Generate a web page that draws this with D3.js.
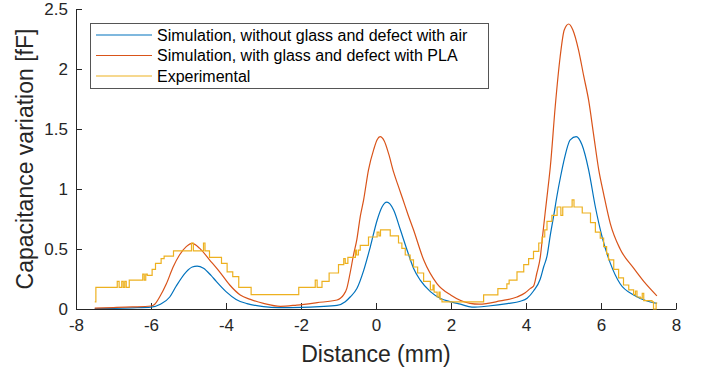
<!DOCTYPE html>
<html><head><meta charset="utf-8">
<script src="https://cdn.jsdelivr.net/npm/d3@7"></script>
<style>body{margin:0;background:#fff;} text{font-family:"Liberation Sans",Arial,Helvetica,sans-serif;}</style>
</head><body>
<svg id="chart" width="707" height="374"></svg>
<script>
// ---- data ----
const seriesNames = ["Simulation, without glass and defect with air","Simulation, with glass and defect with PLA","Experimental"];
const xTicks = [-8,-6,-4,-2,0,2,4,6,8];
const yTicks = [0,0.5,1,1.5,2,2.5];
const yTickLabels = ["0","0.5","1","1.5","2","2.5"];

const airX = [-7.5,-7,-6.5,-6,-5.75,-5.5,-5.33,-5.06,-4.9,-4.77,-4.6,-4.4,-4.26,-4.0,-3.73,-3.44,-3.0,-2.6,-2.0,-1.5,-1.04,-0.82,-0.69,-0.51,-0.33,-0.15,0.03,0.16,0.29,0.47,0.65,0.83,1.0,1.18,1.45,1.71,2.0,2.25,2.56,3.0,3.5,3.85,4.03,4.2,4.38,4.47,4.56,4.65,4.74,4.83,4.92,5.0,5.18,5.34,5.49,5.67,5.85,6.03,6.25,6.51,6.87,7.23,7.49];
const airY = [0.004,0.006,0.01,0.016,0.04,0.10,0.19,0.31,0.35,0.358,0.34,0.28,0.23,0.145,0.08,0.045,0.02,0.012,0.014,0.02,0.03,0.06,0.1,0.17,0.32,0.52,0.74,0.85,0.89,0.825,0.66,0.49,0.34,0.24,0.145,0.09,0.06,0.04,0.015,0.025,0.045,0.065,0.09,0.15,0.25,0.35,0.44,0.62,0.78,0.95,1.1,1.22,1.41,1.436,1.37,1.16,0.85,0.6,0.38,0.21,0.117,0.067,0.047];

const plaX = [-7.5,-7,-6.5,-6,-5.9,-5.77,-5.59,-5.41,-5.24,-5.06,-4.9,-4.7,-4.44,-4.17,-3.9,-3.62,-3.35,-3.0,-2.55,-2.11,-1.57,-1.04,-0.95,-0.86,-0.78,-0.69,-0.6,-0.51,-0.42,-0.33,-0.2,-0.06,0.03,0.11,0.22,0.34,0.47,0.6,0.72,0.85,1.0,1.27,1.63,2.0,2.51,2.75,3.31,3.76,3.98,4.11,4.2,4.29,4.38,4.45,4.51,4.58,4.65,4.78,4.91,5.02,5.14,5.25,5.4,5.54,5.67,5.8,5.94,6.07,6.25,6.51,6.87,7.14,7.49];
const plaY = [0.008,0.012,0.017,0.025,0.04,0.10,0.21,0.35,0.45,0.52,0.547,0.505,0.41,0.31,0.2,0.117,0.08,0.047,0.022,0.033,0.053,0.075,0.09,0.12,0.17,0.30,0.45,0.58,0.77,0.91,1.16,1.33,1.41,1.436,1.40,1.29,1.14,1.02,0.91,0.79,0.66,0.41,0.21,0.115,0.047,0.04,0.067,0.10,0.135,0.17,0.19,0.3,0.43,0.63,0.8,0.99,1.19,1.69,2.10,2.325,2.375,2.325,2.16,1.94,1.74,1.46,1.16,0.96,0.71,0.50,0.34,0.23,0.11];

const expX = [-7.5,-7.47,-6.9,-6.85,-6.78,-6.74,-6.7,-6.66,-6.58,-6.22,-6.18,-6.14,-6.1,-5.97,-5.88,-5.73,-5.65,-5.4,-4.92,-4.87,-4.6,-4.56,-4.44,-4.12,-3.97,-3.82,-3.66,-3.33,-2.06,-1.62,-1.57,-1.44,-1.25,-1.0,-0.86,-0.82,-0.75,-0.55,-0.52,-0.47,-0.42,-0.2,0.03,0.08,0.12,0.38,0.6,0.69,0.78,0.91,1.0,1.11,1.27,1.45,1.52,1.55,1.63,1.68,1.71,1.76,2.87,3.25,3.49,3.55,3.76,3.94,4.07,4.2,4.34,4.43,4.5,4.56,4.69,4.83,4.93,4.98,5.23,5.28,5.5,5.72,5.85,5.98,6.07,6.15,6.2,6.34,6.47,6.6,6.74,6.87,6.92,6.96,7.05,7.1,7.14,7.36,7.4,7.47,7.5];
const expY = [0.06,0.18,0.23,0.18,0.23,0.18,0.23,0.18,0.24,0.29,0.24,0.29,0.28,0.33,0.38,0.42,0.44,0.485,0.55,0.485,0.55,0.485,0.43,0.38,0.31,0.27,0.18,0.12,0.18,0.24,0.18,0.23,0.30,0.37,0.42,0.38,0.43,0.49,0.45,0.49,0.53,0.60,0.64,0.61,0.66,0.61,0.55,0.505,0.45,0.41,0.35,0.30,0.23,0.16,0.2,0.14,0.10,0.14,0.08,0.06,0.117,0.17,0.21,0.24,0.31,0.37,0.42,0.48,0.55,0.6,0.66,0.73,0.78,0.85,0.78,0.85,0.91,0.85,0.80,0.72,0.64,0.59,0.52,0.46,0.41,0.33,0.26,0.2,0.16,0.12,0.15,0.1,0.09,0.13,0.07,0.06,0.0,0.05,0.05];

const colors = ["#0072BD","#D95319","#EDB120"];

// ---- layout ----
const svg = d3.select("#chart");
const L = 76, R = 676, T = 9, B = 309;
const x = d3.scaleLinear().domain([-8,8]).range([L,R]);
const y = d3.scaleLinear().domain([0,2.5]).range([B,T]);
const axisColor = "#262626";

// axes
const gx = svg.append("g").attr("transform",`translate(0,${B})`)
  .call(d3.axisBottom(x).tickValues(xTicks).tickSizeInner(-6).tickSizeOuter(0).tickPadding(10).tickFormat(d3.format("d")));
const gy = svg.append("g").attr("transform",`translate(${L},0)`)
  .call(d3.axisLeft(y).tickValues(yTicks).tickSizeInner(-6).tickSizeOuter(0).tickPadding(8).tickFormat((d,i)=>yTickLabels[i]));
[gx,gy].forEach(g=>{
  g.select(".domain").attr("stroke",axisColor).attr("stroke-width",1);
  g.selectAll(".tick line").attr("stroke",axisColor);
  g.selectAll(".tick text").attr("fill",axisColor).style("font-size","17px").style("font-family","'Liberation Sans',Arial,sans-serif");
});
gx.selectAll(".tick text").text(d=>d<0? "-"+Math.abs(d) : d);

// lines
const smooth = d3.line().x(d=>x(d[0])).y(d=>y(d[1])).curve(d3.curveMonotoneX);
const step = d3.line().x(d=>x(d[0])).y(d=>y(d[1])).curve(d3.curveStepAfter);
svg.append("path").datum(airX.map((v,i)=>[v,airY[i]])).attr("d",smooth).attr("fill","none").attr("stroke",colors[0]).attr("stroke-width",1.2);
svg.append("path").datum(plaX.map((v,i)=>[v,plaY[i]])).attr("d",smooth).attr("fill","none").attr("stroke",colors[1]).attr("stroke-width",1.2);
svg.append("path").datum(expX.map((v,i)=>[v,expY[i]])).attr("d",step).attr("fill","none").attr("stroke",colors[2]).attr("stroke-width",1.2);

// axis labels
svg.append("text").attr("x",(L+R)/2).attr("y",362).attr("text-anchor","middle")
  .style("font-size","23px").attr("fill",axisColor).text("Distance (mm)");
svg.append("text").attr("transform",`translate(33,${(T+B)/2}) rotate(-90)`).attr("text-anchor","middle")
  .style("font-size","23px").attr("fill",axisColor).text("Capacitance variation [fF]");

// legend
const lg = svg.append("g");
lg.append("rect").attr("x",90.5).attr("y",23.5).attr("width",398).attr("height",65).attr("fill","#fff").attr("stroke","#555").attr("stroke-width",1);
const rows = [35,55.5,76];
seriesNames.forEach((n,i)=>{
  lg.append("line").attr("x1",96).attr("x2",152).attr("y1",rows[i]).attr("y2",rows[i]).attr("stroke",colors[i]).attr("stroke-width",1.2);
  lg.append("text").attr("x",157).attr("y",rows[i]).attr("dy","0.35em").style("font-size","16px").attr("fill","#000").text(n);
});
</script>
</body></html>
